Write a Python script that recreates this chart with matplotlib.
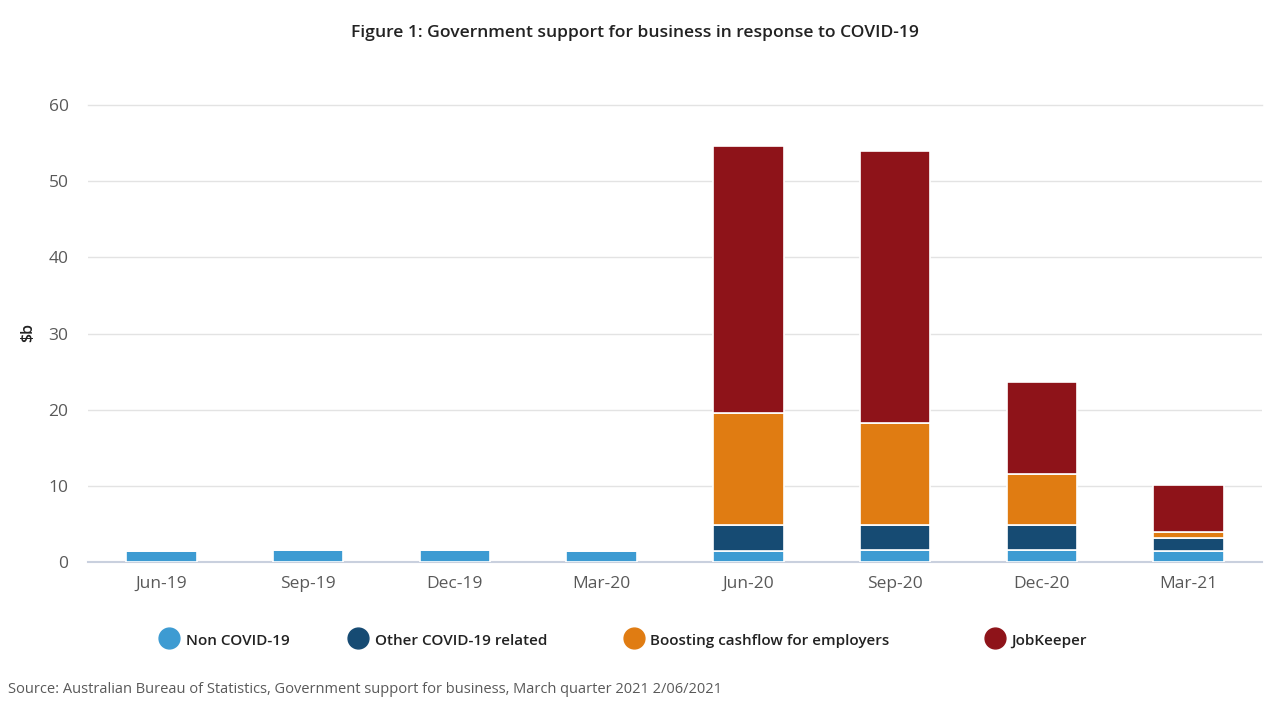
import numpy as np
import matplotlib.pyplot as plt
from matplotlib.lines import Line2D

plt.rcParams['font.family'] = ['Open Sans', 'DejaVu Sans']

# data ($b)
quarters = ['Jun-19', 'Sep-19', 'Dec-19', 'Mar-20', 'Jun-20', 'Sep-20', 'Dec-20', 'Mar-21']
non_covid = [1.4, 1.6, 1.6, 1.4, 1.4, 1.55, 1.55, 1.5]
other_covid = [0, 0, 0, 0, 3.5, 3.35, 3.35, 1.7]
boosting = [0, 0, 0, 0, 14.7, 13.3, 6.7, 0.7]
jobkeeper = [0, 0, 0, 0, 35.0, 35.8, 12.0, 6.2]

series = [non_covid, other_covid, boosting, jobkeeper]
names = ['Non COVID-19', 'Other COVID-19 related', 'Boosting cashflow for employers', 'JobKeeper']
colors = ['#3D9BD2', '#164B73', '#E07C12', '#8E1319']

fig = plt.figure(figsize=(12.8, 7.2), dpi=100)
ax = fig.add_axes([0.06875, 0.2194, 0.9172, 0.6347])

x = np.arange(len(quarters))
bottom = np.zeros(len(quarters))
for vals, c in zip(series, colors):
    vals = np.array(vals)
    ax.bar(x, vals, 0.48, bottom=bottom, color=c, edgecolor='white', linewidth=1.2, zorder=3)
    bottom += vals

ax.set_xlim(-0.5, len(quarters) - 0.5)
ax.set_ylim(0, 60)
ax.set_yticks(np.arange(0, 61, 10))
ax.set_xticks(x)
ax.set_xticklabels(quarters)
ax.grid(axis='y', color='#E3E3E3', linewidth=1, zorder=0)
ax.set_axisbelow(True)
for s in ['top', 'right', 'left']:
    ax.spines[s].set_visible(False)
ax.spines['bottom'].set_color('#C9D0DE')
ax.spines['bottom'].set_linewidth(1.5)
ax.tick_params(axis='both', length=0, labelsize=12.5, labelcolor='#595959')
ax.tick_params(axis='x', pad=10)
ax.tick_params(axis='y', pad=14)
ax.get_yaxis().get_gridlines()[-1].set_clip_on(False)

fig.text(0.022, 0.538, '$b', rotation=90, fontsize=11.5, fontweight='semibold',
         color='#222222', ha='center', va='center')

fig.text(0.496, 0.954, 'Figure 1: Government support for business in response to COVID-19',
         fontsize=12.6, fontweight='semibold', color='#222222', ha='center', va='center')

# legend drawn by hand to match uneven spacing
leg_x = [0.132, 0.280, 0.495, 0.777]
for lx, c, n in zip(leg_x, colors, names):
    fig.add_artist(Line2D([lx], [0.114], marker='o', markersize=15, color=c,
                          linestyle='none', transform=fig.transFigure))
    fig.text(lx + 0.013, 0.110, n, fontsize=11, fontweight='semibold',
             color='#222222', ha='left', va='center')

fig.text(0.006, 0.043, 'Source: Australian Bureau of Statistics, Government support for business, March quarter 2021 2/06/2021',
         fontsize=10.5, color='#595959', ha='left', va='center')

plt.savefig('out.png', dpi=100)
